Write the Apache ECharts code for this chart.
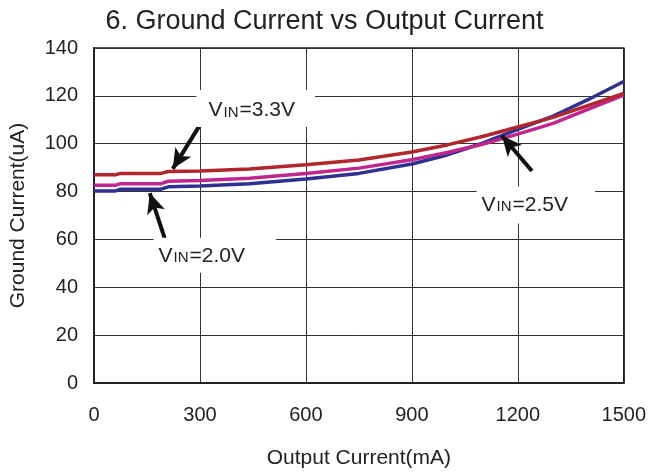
<!DOCTYPE html>
<html><head><meta charset="utf-8">
<script src="https://cdn.jsdelivr.net/npm/echarts@6/dist/echarts.min.js"></script>
<style>html,body{margin:0;padding:0;background:#fff}#c{width:649px;height:474px}</style>
</head><body><div id="c"></div>
<script>
// Output current (mA)
const xValues = [0, 60, 75, 190, 210, 300, 440, 600, 750, 900, 1000, 1100, 1200, 1300, 1400, 1500];
// Ground current (uA)
const vin20 = [80.2, 80.2, 81, 81, 82, 82.3, 83.3, 85.3, 87.6, 91.5, 95.3, 100.2, 106, 111.5, 118.5, 126];
const vin25 = [82.6, 82.6, 83.3, 83.3, 84.3, 84.6, 85.6, 87.6, 89.8, 93.3, 96.3, 99.8, 104, 108.5, 114.5, 120.3];
const vin33 = [87, 87, 87.6, 87.6, 88.4, 88.6, 89.4, 91.2, 93.2, 96.5, 99.5, 103, 107, 111, 116, 121];
const xTicks = [0, 300, 600, 900, 1200, 1500];
const yTicks = [0, 20, 40, 60, 80, 100, 120, 140];
// annotation labels
const labelNames = ['3.3V', '2.0V', '2.5V'];
const labelAnchors = [[458, 114.7], [342, 53.4], [1251, 74.4]];
// arrows: [tail, tip]
const arrows = [
  [[305, 109], [223, 89.5]],
  [[200, 60.5], [158, 79.3]],
  [[1240, 88.6], [1155, 103.3]]
];

const chart = echarts.init(document.getElementById('c'));
const font = 'Liberation Sans, Arial, sans-serif';
const mk = (vals) => xValues.map((x, i) => [x, vals[i]]);
const pads = [[8, 20, 6, 12], [6, 31, 6, 5], [6, 27, 8, 5]];

chart.setOption({
  animation: false,
  backgroundColor: '#fff',
  title: {
    text: '6. Ground Current vs Output Current',
    left: 'center', top: 3,
    textStyle: { fontFamily: font, fontSize: 27, fontWeight: 'normal', color: '#222' }
  },
  grid: { left: 94, right: 24, top: 48, bottom: 88, show: true, borderColor: '#222', borderWidth: 1.5 },
  xAxis: {
    type: 'value', min: xTicks[0], max: xTicks[xTicks.length - 1], interval: xTicks[1] - xTicks[0],
    name: 'Output Current(mA)', nameLocation: 'middle', nameGap: 65,
    nameTextStyle: { fontFamily: font, fontSize: 21, color: '#222' },
    axisLine: { lineStyle: { color: '#222', width: 2 } },
    axisTick: { show: false },
    axisLabel: { fontFamily: font, fontSize: 20, color: '#222', margin: 22, formatter: (v) => String(v) },
    splitLine: { show: true, lineStyle: { color: '#333', width: 1 } }
  },
  yAxis: {
    type: 'value', min: yTicks[0], max: yTicks[yTicks.length - 1], interval: yTicks[1] - yTicks[0],
    name: 'Ground Current(uA)', nameLocation: 'middle', nameGap: 65,
    nameTextStyle: { fontFamily: font, fontSize: 21, color: '#222' },
    axisLine: { lineStyle: { color: '#222', width: 2 } },
    axisTick: { show: false },
    axisLabel: { fontFamily: font, fontSize: 20, color: '#222', margin: 16, formatter: (v) => String(v) },
    splitLine: { show: true, lineStyle: { color: '#333', width: 1 } }
  },
  series: [
    { name: 'VIN=2.0V', type: 'line', data: mk(vin20), showSymbol: false, z: 3,
      lineStyle: { color: '#2e3192', width: 3.5 } },
    { name: 'VIN=2.5V', type: 'line', data: mk(vin25), showSymbol: false, z: 4,
      lineStyle: { color: '#c1268e', width: 3.5 } },
    { name: 'VIN=3.3V', type: 'line', data: mk(vin33), showSymbol: false, z: 5,
      lineStyle: { color: '#b2262e', width: 3.5 } },
    { type: 'scatter', symbolSize: 0, z: 6, silent: true,
      itemStyle: { opacity: 1 },
      data: labelAnchors.map((p, i) => ({
        value: p, name: labelNames[i],
        label: { padding: pads[i] }
      })),
      label: {
        show: true, position: 'inside', backgroundColor: '#fff', opacity: 1,
        formatter: (p) => '{v|V}{s|IN}{v|=' + p.name + '}',
        rich: {
          v: { fontFamily: font, fontSize: 21, color: '#222', verticalAlign: 'bottom', lineHeight: 23 },
          s: { fontFamily: font, fontSize: 15, color: '#222', verticalAlign: 'bottom', lineHeight: 23, padding: [0, 1, 1, 1] }
        }
      }
    },
    { type: 'line', data: [], z: 8, silent: true,
      markLine: {
        silent: true, animation: false,
        symbol: ['none', 'arrow'], symbolSize: [14, 20],
        label: { show: false },
        lineStyle: { color: '#111', width: 4, type: 'solid' },
        data: arrows.map(a => [{ coord: a[0] }, { coord: a[1] }])
      }
    }
  ]
});
</script>
</body></html>
